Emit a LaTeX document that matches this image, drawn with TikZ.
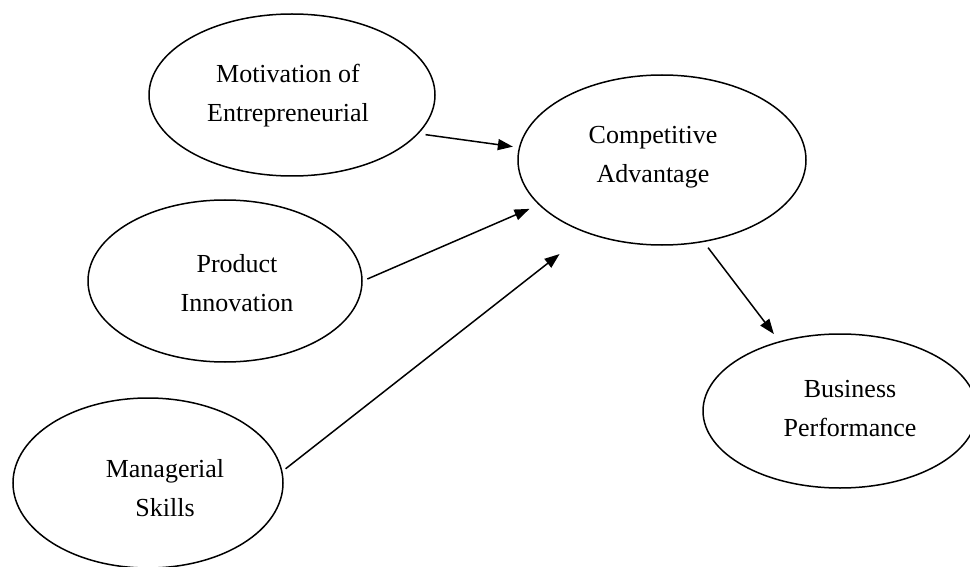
\documentclass[tikz,border=0pt]{standalone}
\usepackage{fontspec}
\setmainfont{Liberation Serif}
\usetikzlibrary{shapes.geometric,arrows.meta}
\begin{document}
\begin{tikzpicture}[x=1pt,y=-1pt,
  oval/.style={draw,ellipse,line width=1.5pt,inner sep=0pt},
  lbl/.style={align=center,font=\fontsize{26}{39}\selectfont,inner sep=0pt},
  conn/.style={line width=1.5pt,-{Triangle[length=15pt,width=11pt]}}]
\useasboundingbox (0,0) rectangle (970,567);
\node[oval,minimum width=286pt,minimum height=162pt] (mot) at (292,95) {};
\node[oval,minimum width=288pt,minimum height=170pt] (comp) at (662,160) {};
\node[oval,minimum width=274pt,minimum height=162pt] (prod) at (225,281) {};
\node[oval,minimum width=270pt,minimum height=170pt] (man) at (148,483) {};
\node[oval,minimum width=274pt,minimum height=154pt] (bus) at (840,411) {};
\node[lbl] (motT) at (288,96) {Motivation of\\Entrepreneurial};
\node[lbl] (compT) at (653,157) {Competitive\\Advantage};
\node[lbl] (prodT) at (237,283) {Product\\Innovation};
\node[lbl] (manT) at (165,488) {Managerial\\Skills};
\node[lbl] (busT) at (850,409) {Business\\Performance};
\draw[conn,shorten <=7pt,shorten >=6pt] (mot.-17) -- (comp.175);
\draw[conn,shorten <=5pt,shorten >=10pt] (prod.0) -- (comp.200);
\draw[conn,shorten <=4pt,shorten >=34pt] (man.5) -- (comp.224);
\draw[conn,shorten <=7pt,shorten >=9pt] (comp.-63) -- (bus.131);
\end{tikzpicture}
\end{document}
